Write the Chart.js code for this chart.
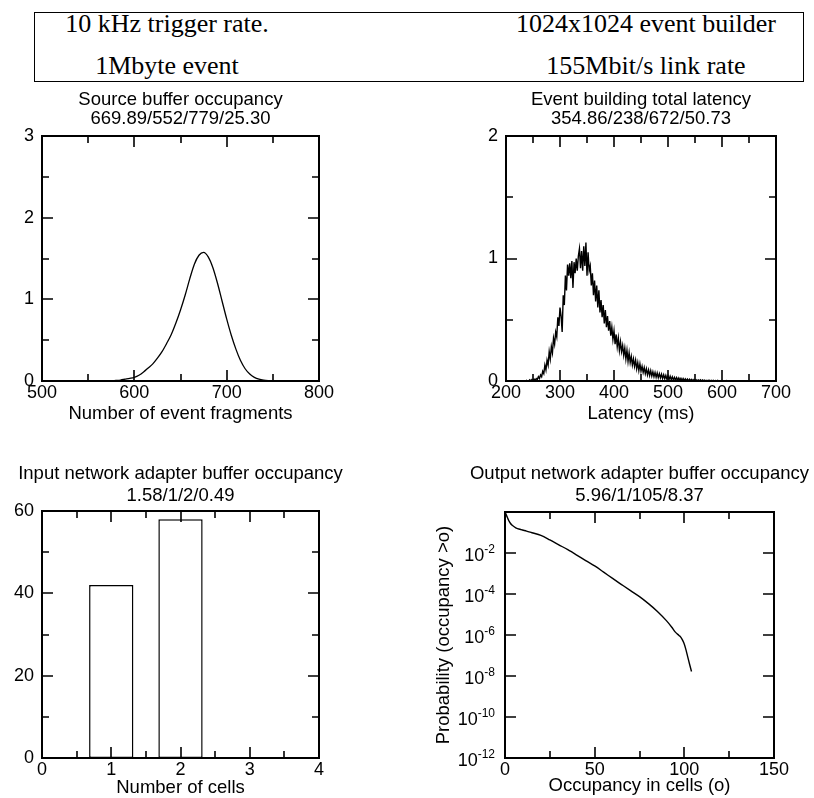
<!DOCTYPE html>
<html>
<head>
<meta charset="utf-8">
<script src="https://cdn.jsdelivr.net/npm/chart.js@4"></script>
<style>
  html, body { margin: 0; padding: 0; background: #fff; }
  body { width: 814px; height: 798px; position: relative; overflow: hidden; }
  canvas { position: absolute; }
  #hdr { position: absolute; left: 34px; top: 12px; width: 768px; height: 68px; border: 1px solid #000; }
  .hl { position: absolute; font-family: "Liberation Serif", "Times New Roman", serif; font-size: 26px;
        line-height: 26px; white-space: nowrap; transform: translateX(-50%); color: #000; }
</style>
</head>
<body>
<div id="hdr"></div>
<div class="hl" style="left:167px; top:11px;">10 kHz trigger rate.</div>
<div class="hl" style="left:646px; top:11px;">1024x1024 event builder</div>
<div class="hl" style="left:167px; top:53px;">1Mbyte event</div>
<div class="hl" style="left:646px; top:53px;">155Mbit/s link rate</div>

<script>
// ---- Source buffer occupancy (% per fragment) ----
const srcFragments = [500, 575, 580, 585, 590, 595, 600, 605, 610, 615, 620, 625, 630, 635, 640, 645,
  650, 655, 660, 665, 670, 675, 680, 685, 690, 695, 700, 705, 710, 715, 720, 725, 730, 735, 740, 745,
  750, 755, 800];
const srcPercent = [0, 0, 0.006, 0.012, 0.022, 0.032, 0.045, 0.07, 0.11, 0.16, 0.21, 0.28, 0.36, 0.46,
  0.57, 0.71, 0.87, 1.05, 1.25, 1.43, 1.54, 1.575, 1.52, 1.39, 1.2, 0.98, 0.76, 0.56, 0.39, 0.25, 0.15,
  0.085, 0.045, 0.022, 0.01, 0.004, 0.001, 0, 0];

// ---- Event building total latency (% per 2 ms bin, bins from 236 ms) ----
const latBinStart = 236;
const latBinWidth = 2;
const latPercent = [
  0, 0.006, 0, 0, 0.01, 0, 0.012, 0.004, 0.015, 0.006,
  0.02, 0.012, 0.035, 0.02, 0.05, 0.035, 0.08, 0.06, 0.13, 0.09,
  0.17, 0.13, 0.24, 0.18, 0.28, 0.23, 0.35, 0.3, 0.4, 0.36,
  0.52, 0.45, 0.6, 0.53, 0.4, 0.7, 0.62, 0.86, 0.74, 0.95,
  0.86, 0.96, 0.84, 0.98, 0.76, 0.97, 0.88, 1.0, 0.9, 1.02,
  1.08, 0.92, 1.06, 0.9, 1.1, 0.94, 1.13, 0.86, 1.05, 0.9,
  0.94, 0.78, 0.88, 0.7, 0.82, 0.65, 0.78, 0.6, 0.74, 0.56,
  0.66, 0.52, 0.62, 0.47, 0.58, 0.44, 0.53, 0.41, 0.49, 0.37,
  0.44, 0.34, 0.41, 0.3, 0.38, 0.28, 0.35, 0.25, 0.32, 0.24,
  0.29, 0.21, 0.27, 0.18, 0.25, 0.16, 0.23, 0.15, 0.2, 0.13,
  0.18, 0.12, 0.17, 0.1, 0.15, 0.085, 0.14, 0.08, 0.12, 0.07,
  0.11, 0.06, 0.1, 0.05, 0.09, 0.045, 0.085, 0.04, 0.075, 0.035,
  0.07, 0.03, 0.065, 0.028, 0.06, 0.025, 0.055, 0.02, 0.05, 0.018,
  0.045, 0.015, 0.042, 0.012, 0.038, 0.01, 0.034, 0.008, 0.03, 0.007,
  0.028, 0.006, 0.025, 0.005, 0.022, 0.004, 0.02, 0.004, 0.018, 0.003,
  0.016, 0.002, 0.014, 0.002, 0.013, 0.001, 0.012, 0.002, 0.01, 0.001,
  0.009, 0.001, 0.01, 0, 0.008, 0.001, 0.007, 0, 0.006, 0.001,
  0.007, 0, 0.005, 0.001, 0.006, 0, 0.004, 0, 0.005, 0,
  0.003, 0, 0.004, 0.001, 0.002, 0, 0.004, 0, 0.002, 0,
  0.003, 0, 0.002, 0, 0.003, 0, 0.001, 0, 0.002, 0,
  0.002, 0, 0.001, 0, 0.003, 0, 0.001, 0, 0.002, 0,
  0, 0.002, 0, 0.001, 0, 0.002, 0, 0.001, 0
];

// ---- Input network adapter buffer occupancy (% of time) ----
const inCells = [0, 1, 2, 3];
const inPercent = [0, 42, 58, 0];

// ---- Output network adapter buffer occupancy: P(occupancy > o) ----
const outCells = [0, 1, 2, 3, 4, 6, 9, 12, 15, 20, 25, 30, 35, 40, 45, 50, 55, 60, 65, 70, 75, 80,
  85, 90, 93, 95, 97, 98, 99, 100, 101, 102, 103, 104];
const outProb = [1, 0.631, 0.398, 0.282, 0.224, 0.17, 0.138, 0.117, 0.0977, 0.0724, 0.0437, 0.0251,
  0.01445, 0.00794, 0.00427, 0.00234, 0.00117, 5.75e-4, 2.88e-4, 1.45e-4, 7.41e-5, 3.39e-5, 1.41e-5,
  5.01e-6, 2.40e-6, 1.38e-6, 9.55e-7, 7.94e-7, 5.62e-7, 3.55e-7, 1.78e-7, 7.94e-8, 3.55e-8, 1.66e-8];
const outPowers = [-2, -4, -6, -8, -10, -12];

// ---- drawing ----
const SANS = '"Liberation Sans", Arial, Helvetica, sans-serif';
Chart.defaults.font.family = SANS;
Chart.defaults.color = '#000';
Chart.defaults.animation = false;
Chart.defaults.plugins.legend.display = false;
Chart.defaults.plugins.tooltip.enabled = false;

function makeCanvas(left, top, w, h) {
  const c = document.createElement('canvas');
  c.width = w; c.height = h;
  c.style.left = left + 'px'; c.style.top = top + 'px';
  c.style.width = w + 'px'; c.style.height = h + 'px';
  document.body.appendChild(c);
  return c;
}

// frame, inward ticks on all four sides, the two-line heading and optional 10^n labels
function decor(o) {
  return {
    id: 'decor',
    afterDraw(chart) {
      const ctx = chart.ctx;
      const a = chart.chartArea;
      const xs = chart.scales.x, ys = chart.scales.y;
      ctx.save();
      ctx.strokeStyle = '#000';
      ctx.lineWidth = 1.6;
      ctx.beginPath();
      for (const [vals, len] of [[o.xMajor, 11], [o.xMinor, 7]]) {
        for (const v of vals) {
          const p = Math.round(xs.getPixelForValue(v));
          ctx.moveTo(p, a.bottom); ctx.lineTo(p, a.bottom - len);
          ctx.moveTo(p, a.top); ctx.lineTo(p, a.top + len);
        }
      }
      for (const [vals, len] of [[o.yMajor, 11], [o.yMinor, 7]]) {
        for (const v of vals) {
          const p = Math.round(ys.getPixelForValue(v));
          ctx.moveTo(a.left, p); ctx.lineTo(a.left + len, p);
          ctx.moveTo(a.right, p); ctx.lineTo(a.right - len, p);
        }
      }
      ctx.stroke();

      ctx.lineWidth = 2;
      ctx.strokeRect(a.left, a.top, a.right - a.left, a.bottom - a.top);

      ctx.fillStyle = '#000';
      ctx.font = '18.5px ' + SANS;
      ctx.textAlign = 'center';
      ctx.textBaseline = 'middle';
      const cx = (a.left + a.right) / 2;
      ctx.fillText(o.title, cx, a.top - o.gaps[0]);
      ctx.fillText(o.subtitle, cx, a.top - o.gaps[1]);

      if (o.powers) {
        const right = a.left - 10;
        for (const e of o.powers) {
          const p = ys.getPixelForValue(Math.pow(10, e));
          const ex = String(e);
          ctx.font = '12px ' + SANS;
          const w = ctx.measureText(ex).width;
          ctx.textAlign = 'left';
          ctx.fillText(ex, right - w, p - 3);
          ctx.font = '18px ' + SANS;
          ctx.textAlign = 'right';
          ctx.fillText('10', right - w, p + 3.5);
        }
      }
      ctx.restore();
    }
  };
}

const tickFont = { size: 18, lineHeight: 1 };
const titleFont = { size: 18.5, lineHeight: 1 };

function xAxis(min, max, step, title, titleBottom, h) {
  return {
    type: 'linear', position: 'bottom', min, max, offset: false,
    grid: { display: false, drawTicks: false, offset: false }, border: { display: false },
    ticks: { stepSize: step, padding: 3, font: tickFont, color: '#000', maxRotation: 0, autoSkip: false },
    title: { display: true, text: title, color: '#000', font: titleFont, padding: { top: 0, bottom: titleBottom } },
    afterFit: s => { s.height = h; }
  };
}
function yAxis(min, max, step, w) {
  return {
    type: 'linear', position: 'left', min, max,
    grid: { display: false, drawTicks: false }, border: { display: false },
    ticks: { stepSize: step, padding: 8, font: tickFont, color: '#000', autoSkip: false },
    afterFit: s => { s.width = w; }
  };
}

// Source buffer occupancy
new Chart(makeCanvas(0, 88, 405, 340), {
  type: 'line',
  data: { datasets: [{
    data: srcFragments.map((x, i) => ({ x, y: srcPercent[i] })),
    borderColor: '#000', borderWidth: 1.3, pointRadius: 0, fill: false,
    cubicInterpolationMode: 'monotone'
  }] },
  options: {
    responsive: false, devicePixelRatio: 1, events: [],
    layout: { padding: { top: 48, left: 0, right: 86, bottom: 3 } },
    scales: {
      x: xAxis(500, 800, 100, 'Number of event fragments', 2, 44),
      y: yAxis(0, 3, 1, 42)
    }
  },
  plugins: [decor({
    title: 'Source buffer occupancy', subtitle: '669.89/552/779/25.30', gaps: [36, 17],
    xMajor: [600, 700], xMinor: [550, 650, 750], yMajor: [1, 2], yMinor: [0.5, 1.5, 2.5]
  })]
});

// Event building total latency
new Chart(makeCanvas(407, 88, 407, 340), {
  type: 'line',
  data: { datasets: [{
    data: latPercent.map((y, i) => ({ x: latBinStart + i * latBinWidth, y })),
    borderColor: '#000', borderWidth: 1.4, pointRadius: 0, fill: false, tension: 0
  }] },
  options: {
    responsive: false, devicePixelRatio: 1, events: [],
    layout: { padding: { top: 48, left: 0, right: 38, bottom: 3 } },
    scales: {
      x: xAxis(200, 700, 100, 'Latency (ms)', 2, 44),
      y: yAxis(0, 2, 1, 99)
    }
  },
  plugins: [decor({
    title: 'Event building total latency', subtitle: '354.86/238/672/50.73', gaps: [36, 17],
    xMajor: [300, 400, 500, 600], xMinor: [250, 350, 450, 550, 650], yMajor: [1], yMinor: [0.5, 1.5]
  })]
});

// Input network adapter buffer occupancy
new Chart(makeCanvas(0, 440, 405, 358), {
  type: 'bar',
  data: { datasets: [{
    data: inCells.map((x, i) => ({ x, y: inPercent[i] })),
    backgroundColor: '#fff', borderColor: '#000', borderWidth: 1.5, borderSkipped: false,
    barPercentage: 0.64, categoryPercentage: 1
  }] },
  options: {
    responsive: false, devicePixelRatio: 1, events: [],
    layout: { padding: { top: 71, left: 0, right: 86, bottom: 0 } },
    scales: {
      x: xAxis(0, 4, 1, 'Number of cells', 1, 40),
      y: yAxis(0, 60, 20, 42)
    }
  },
  plugins: [decor({
    title: 'Input network adapter buffer occupancy', subtitle: '1.58/1/2/0.49', gaps: [37, 15],
    xMajor: [1, 2, 3], xMinor: [0.5, 1.5, 2.5, 3.5], yMajor: [20, 40], yMinor: [10, 30, 50]
  })]
});

// Output network adapter buffer occupancy
new Chart(makeCanvas(407, 440, 407, 358), {
  type: 'line',
  data: { datasets: [{
    data: outCells.map((x, i) => ({ x, y: outProb[i] })),
    borderColor: '#000', borderWidth: 1.4, pointRadius: 0, fill: false,
    cubicInterpolationMode: 'monotone'
  }] },
  options: {
    responsive: false, devicePixelRatio: 1, events: [],
    layout: { padding: { top: 72, left: 0, right: 40, bottom: 0 } },
    scales: {
      x: xAxis(0, 150, 50, 'Occupancy in cells (o)', 3, 40),
      y: {
        type: 'logarithmic', position: 'left', min: 1e-12, max: 1,
        grid: { display: false, drawTicks: false }, border: { display: false },
        ticks: { display: false },
        title: { display: true, text: 'Probability (occupancy >o)', color: '#000', font: titleFont,
                 padding: { top: 28, bottom: 0 } },
        afterFit: s => { s.width = 98; }
      }
    }
  },
  plugins: [decor({
    title: 'Output network adapter buffer occupancy', subtitle: '5.96/1/105/8.37', gaps: [38, 16],
    xMajor: [50, 100], xMinor: [25, 75, 125], yMajor: [1e-2, 1e-4, 1e-6, 1e-8, 1e-10], yMinor: [],
    powers: outPowers
  })]
});
</script>
</body>
</html>
